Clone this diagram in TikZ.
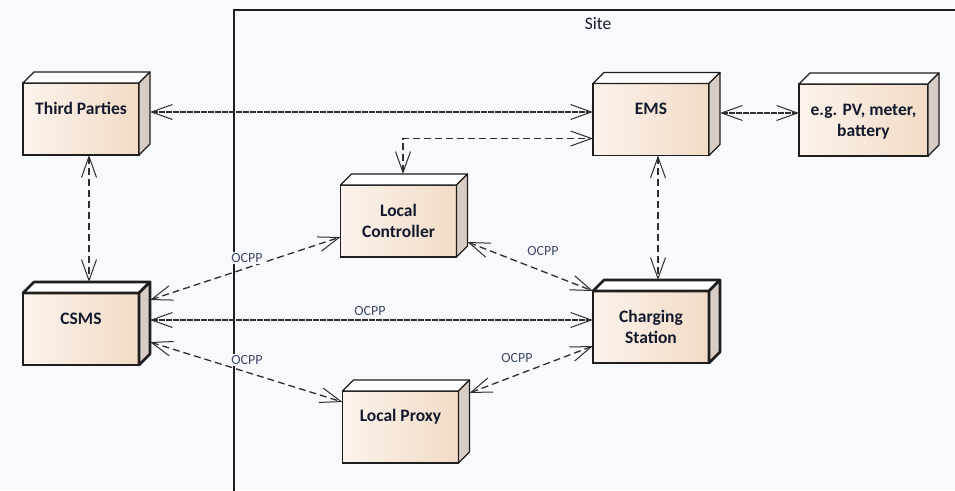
\documentclass[tikz,border=0pt]{standalone}
\usepackage{fontspec}
\setmainfont{Carlito}
\usetikzlibrary{arrows.meta,calc}

\definecolor{bgc}{HTML}{F8F9FD}
\definecolor{faceL}{HTML}{FBF3EC}
\definecolor{faceR}{HTML}{F2DBC6}
\definecolor{sidec}{HTML}{D8CDC4}
\definecolor{edgec}{HTML}{1E1E1E}
\definecolor{linkc}{HTML}{2E2E2E}
\definecolor{labc}{HTML}{3C4A66}
\definecolor{txtc}{HTML}{141A2E}

\tikzset{
  face/.style={draw=edgec, line width=1.3pt, left color=faceL, right color=faceR,
    minimum width=116pt, minimum height=72pt, inner sep=0pt, outer sep=0pt},
  heavy/.style={line width=2.6pt},
  boxtext/.style={font=\fontsize{17.5}{21}\selectfont\bfseries, text=txtc, align=center, inner sep=0pt},
  barb/.tip={Straight Barb[length=21pt,width=15pt,line width=1pt]},
  link/.style={draw=linkc, line width=1.3pt, barb-barb},
  dashlink/.style={link, dash pattern=on 7pt off 4pt},
  finelink/.style={link, dash pattern=on 6pt off 1pt},
  ocpp/.style={font=\fontsize{14}{16}\selectfont, text=labc, fill=bgc, inner sep=1pt},
  sitetext/.style={font=\fontsize{17.5}{21}\selectfont, text=txtc, inner sep=0pt},
}

% a 3D node box: shaded front face with a white top and a grey right side
\newcommand\cuboid[3][]{%
  \node[face,#1] (#2) at (#3) {};
  \filldraw[draw=edgec, line width=1.3pt, line join=round, fill=white, #1]
    (#2.north west) -- ++(11,-11) -- ($(#2.north east)+(11,-11)$) -- (#2.north east) -- cycle;
  \filldraw[draw=edgec, line width=1.3pt, line join=round, fill=sidec, #1]
    (#2.north east) -- ++(11,-11) -- ($(#2.south east)+(11,-11)$) -- (#2.south east) -- cycle;
}

\begin{document}
\begin{tikzpicture}[x=1pt, y=-1pt]
  \useasboundingbox (0,0) rectangle (955,490);
  \fill[bgc] (0,0) rectangle (955,490);

  % site frame
  \draw[line width=1.3pt, draw=edgec] (234,495) -- (234,10) -- (960,10);
  \node[sitetext] (site) at (598,24) {Site};

  % boxes
  \cuboid{tp}{81,119}
  \cuboid[heavy]{csms}{81,329}
  \cuboid{lc}{398.5,221}
  \cuboid{ems}{651,119.5}
  \cuboid[minimum width=129pt]{eg}{863.5,120}
  \cuboid[heavy]{cs}{651,327}
  \cuboid{lp}{400.5,427}

  \node[boxtext] (tp-t)   at (81,108)    {Third Parties};
  \node[boxtext] (csms-t) at (81,319)    {CSMS};
  \node[boxtext] (lc-t)   at (398.5,221) {Local\\Controller};
  \node[boxtext] (ems-t)  at (651,109)   {EMS};
  \node[boxtext] (eg-t)   at (863.5,122) {e.g. PV, meter,\\battery};
  \node[boxtext] (cs-t)   at (651,327)   {Charging\\Station};
  \node[boxtext] (lp-t)   at (400.5,417) {Local Proxy};

  % connectors
  \draw[finelink] ($(tp.east)+(11,-7)$) -- ($(ems.west)+(0,-7.5)$);
  \draw[dashlink] ($(lc.north)+(4.5,-11)$) |- ($(ems.west)+(0,19)$);
  \draw[finelink] ($(ems.east)+(11,-6.5)$) -- ($(eg.west)+(0,-7)$);
  \draw[dashlink] ($(ems.south)+(7,0)$) -- ($(cs.north)+(7,-11)$);
  \draw[dashlink] ($(tp.south)+(8,0)$) -- ($(csms.north)+(8,-11)$);
  \draw[dashlink] ($(csms.east)+(11,-29)$) -- ($(lc.west)+(0,16)$);
  \draw[finelink] ($(csms.east)+(11,-9)$) -- ($(cs.west)+(0,-7)$);
  \draw[dashlink] ($(csms.east)+(11,13)$) -- ($(lp.west)+(0,-25)$);
  \draw[dashlink] ($(lc.east)+(11,21)$) -- (cs.north west);
  \draw[dashlink] ($(lp.east)+(11,-34)$) -- ($(cs.west)+(0,19)$);

  % connector labels
  \node[ocpp] (l1) at (247,258) {OCPP};
  \node[ocpp] (l2) at (370,311) {OCPP};
  \node[ocpp] (l3) at (247,360) {OCPP};
  \node[ocpp] (l4) at (543,251) {OCPP};
  \node[ocpp] (l5) at (517,358) {OCPP};
\end{tikzpicture}
\end{document}
